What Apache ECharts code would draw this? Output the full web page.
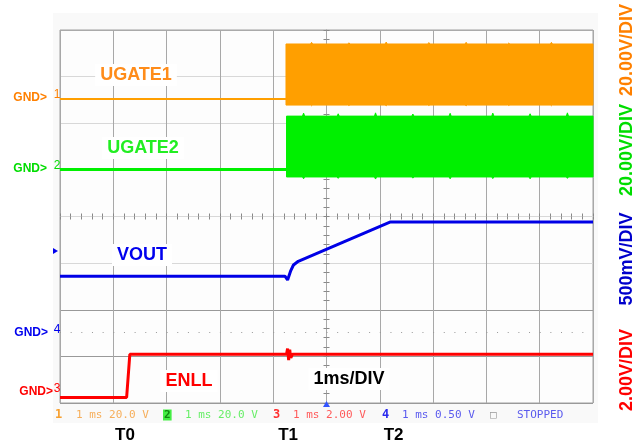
<!DOCTYPE html>
<html><head><meta charset="utf-8">
<script src="https://cdn.jsdelivr.net/npm/echarts@6/dist/echarts.min.js"></script>
<style>html,body{margin:0;padding:0;background:#fff}#c{width:642px;height:446px}</style>
</head><body><div id="c"></div>
<script>
// ---- data (time in ms, values in volts) ----
const ugate1BaseTime = [0, 4.24];
const ugate1BaseVolts = [0, 0];
const ugate1BandTime = [4.24, 4.70, 4.72, 4.74, 5.40, 5.42, 5.44, 6.10, 6.12, 6.14, 6.90, 6.92, 6.94, 7.60, 7.62, 7.64, 8.40, 8.42, 8.44, 9.20, 9.22, 9.24, 10];
const ugate1BandHigh = [23.6, 23.6, 24.3, 23.6, 23.6, 24.1, 23.6, 23.6, 24.4, 23.6, 23.6, 24.2, 23.6, 23.6, 24.3, 23.6, 23.6, 24.0, 23.6, 23.6, 24.3, 23.6, 23.6];
const ugate1BandLow = [-2.6, -2.6, -2.9, -2.6, -2.6, -2.8, -2.6, -2.6, -2.9, -2.6, -2.6, -2.8, -2.6, -2.6, -2.9, -2.6, -2.6, -2.8, -2.6, -2.6, -2.9, -2.6, -2.6];

const ugate2BaseTime = [0, 4.25];
const ugate2BaseVolts = [0, 0];
const ugate2BandTime = [4.25, 4.55, 4.57, 4.59, 5.20, 5.22, 5.24, 5.90, 5.92, 5.94, 6.60, 6.62, 6.64, 7.30, 7.32, 7.34, 8.10, 8.12, 8.14, 8.80, 8.82, 8.84, 9.50, 9.52, 9.54, 10];
const ugate2BandHigh = [22.9, 22.9, 24.2, 22.9, 22.9, 23.9, 22.9, 22.9, 24.3, 22.9, 22.9, 23.8, 22.9, 22.9, 24.1, 22.9, 22.9, 24.2, 22.9, 22.9, 23.9, 22.9, 22.9, 24.3, 22.9, 22.9];
const ugate2BandLow = [-3.2, -3.2, -4.0, -3.2, -3.2, -3.8, -3.2, -3.2, -4.1, -3.2, -3.2, -3.7, -3.2, -3.2, -4.0, -3.2, -3.2, -3.9, -3.2, -3.2, -4.0, -3.2, -3.2, -3.8, -3.2, -3.2];

const voutTime = [0, 4.22, 4.27, 4.33, 4.38, 4.47, 6.19, 10];
const voutVolts = [0.62, 0.62, 0.58, 0.68, 0.74, 0.78, 1.20, 1.20];

const enllTime = [0, 1.25, 1.31, 4.25, 4.27, 4.29, 4.31, 4.33, 4.36, 10];
const enllVolts = [0, 0, 1.85, 1.85, 2.1, 1.6, 2.05, 1.7, 1.85, 1.85];

const channelNames = ['UGATE1', 'UGATE2', 'VOUT', 'ENLL'];
const scaleLabels = ['20.00V/DIV', '20.00V/DIV', '500mV/DIV', '2.00V/DIV'];
const timeMarkerNames = ['T0', 'T1', 'T2'];
const timeMarkerMs = [1.22, 4.28, 6.26];
const timebaseLabel = '1ms/DIV';
const statusItems = ['1', '1 ms 20.0 V', '2', '1 ms 20.0 V', '3', '1 ms 2.00 V', '4', '1 ms 0.50 V', '\u25A1', 'STOPPED'];

// ---- channel settings (ground position in divisions, volts per division) ----
const ch1 = {gnd: 6.52, vdiv: 20};
const ch2 = {gnd: 5.008, vdiv: 20};
const ch3 = {gnd: 0.118, vdiv: 2};
const ch4 = {gnd: 1.48, vdiv: 0.5};
const toDiv = (v, c) => c.gnd + v / c.vdiv;
const zip = (t, v, c) => t.map((x, i) => [x, toDiv(v[i], c)]);

const ORANGE = '#ff9f00', GREEN = '#00f000', BLUE = '#0000e6', RED = '#ff0000';

function band(times, hi, lo, c, color) {
  return {
    type: 'custom', xAxisIndex: 0, yAxisIndex: 0, silent: true, z: 3,
    data: [[times[0], toDiv(hi[0], c)]],
    renderItem: (params, api) => {
      const pts = [];
      for (let i = 0; i < times.length; i++) pts.push(api.coord([times[i], toDiv(hi[i], c)]));
      for (let i = times.length - 1; i >= 0; i--) pts.push(api.coord([times[i], toDiv(lo[i], c)]));
      return {type: 'polygon', shape: {points: pts}, style: {fill: color, stroke: color, lineWidth: 1}};
    }
  };
}
function trace(t, v, c, color, w) {
  return {type: 'line', xAxisIndex: 0, yAxisIndex: 0, data: zip(t, v, c), symbol: 'none',
    lineStyle: {color: color, width: w}, z: 4, silent: true, animation: false};
}

const chart = echarts.init(document.getElementById('c'), null, {renderer: 'canvas'});
const G = {left: 60, top: 30, width: 533, height: 373};
const hColors = ['#999', '#999', '#999', '#d8d8d8', '#d8d8d8', '#d8d8d8', '#d8d8d8', '#d8d8d8', '#aaa'];
const tickStyle = {color: '#888', width: 1};
const centerAxisX = (pos) => ({gridIndex: 1, type: 'value', min: -5, max: 5, interval: 1, position: pos,
  axisLine: {show: true, onZero: true, lineStyle: {color: '#d8d8d8'}},
  axisTick: {show: true, length: 3, lineStyle: tickStyle},
  minorTick: {show: true, splitNumber: 5, length: 3, lineStyle: tickStyle},
  axisLabel: {show: false}, splitLine: {show: false}});
const centerAxisY = (pos) => ({gridIndex: 1, type: 'value', min: -4, max: 4, interval: 1, position: pos,
  axisLine: {show: true, onZero: true, lineStyle: {color: '#a8a8a8'}},
  axisTick: {show: true, length: 3, lineStyle: tickStyle},
  minorTick: {show: true, splitNumber: 5, length: 3, lineStyle: tickStyle},
  axisLabel: {show: false}, splitLine: {show: false}});

const option = {
  animation: false,
  backgroundColor: '#fff',
  grid: [Object.assign({show: true, borderColor: '#a0a0a0', borderWidth: 1, backgroundColor: '#fdfdfd'}, G), Object.assign({}, G)],
  xAxis: [
    {gridIndex: 0, type: 'value', min: 0, max: 10, interval: 1,
      axisLine: {show: false}, axisTick: {show: false}, axisLabel: {show: false},
      splitLine: {show: true, lineStyle: {color: '#a8a8a8', width: 1}}},
    centerAxisX('bottom'), centerAxisX('top')
  ],
  yAxis: [
    {gridIndex: 0, type: 'value', min: 0, max: 8, interval: 1,
      axisLine: {show: false}, axisTick: {show: false}, axisLabel: {show: false},
      splitLine: {show: true, lineStyle: {color: hColors, width: 1}}},
    centerAxisY('left'), centerAxisY('right')
  ],
  series: [
    Object.assign(trace(ugate1BaseTime, ugate1BaseVolts, ch1, ORANGE, 2), {
      markLine: {silent: true, symbol: 'none', label: {show: false},
        lineStyle: {color: '#999', type: [1, 9.66], width: 1},
        data: [{yAxis: ch4.gnd + 0.04}]}}),
    band(ugate1BandTime, ugate1BandHigh, ugate1BandLow, ch1, ORANGE),
    trace(ugate2BaseTime, ugate2BaseVolts, ch2, GREEN, 3),
    band(ugate2BandTime, ugate2BandHigh, ugate2BandLow, ch2, GREEN),
    trace(voutTime, voutVolts, ch4, BLUE, 3),
    trace(enllTime, enllVolts, ch3, RED, 3)
  ]
};
chart.setOption(option);

// ---- annotations ----
const px = (t) => chart.convertToPixel({xAxisIndex: 0, yAxisIndex: 0}, [t, 0])[0];
const BOLD = 'bold 18px "Liberation Sans", Arial, sans-serif';
const SMALL = 'bold 12px "Liberation Sans", Arial, sans-serif';
const MONO = '11px "DejaVu Sans Mono", monospace';
const g = [];
g.push({type: 'rect', z: -100, shape: {x: 53, y: 13, width: 545, height: 410}, style: {fill: '#f9f9f9'}});
function lbl(text, x, y, color, bg) {
  g.push({type: 'text', z: 50, x: x, y: y, style: {text: text, font: BOLD, fill: color,
    align: 'center', verticalAlign: 'middle', backgroundColor: bg ? '#fff' : undefined, padding: bg ? [2, 5] : 0}});
}
lbl(channelNames[0], 136, 75, '#ff8c1a', true);
lbl(channelNames[1], 143, 148, '#22ee22', true);
lbl(channelNames[2], 142, 255, '#0000ee', true);
lbl(channelNames[3], 189, 381, '#ff0000', true);
lbl(timebaseLabel, 349, 379, '#000', true);
function gnd(num, xr, y, color) {
  g.push({type: 'text', z: 50, x: xr, y: y, style: {text: 'GND>', font: SMALL, fill: color, align: 'right', verticalAlign: 'middle'}});
  g.push({type: 'text', z: 50, x: 57, y: y - 3, style: {text: num, font: '12px "Liberation Sans", Arial', fill: color, align: 'center', verticalAlign: 'middle'}});
}
gnd('1', 47, 98, '#ff8000');
gnd('2', 47, 169, '#00dd00');
gnd('4', 48, 333, '#0000ee');
gnd('3', 53, 392, '#ff0000');
g.push({type: 'polygon', z: 50, shape: {points: [[53, 248], [58, 251], [53, 254]]}, style: {fill: '#0000ee'}});
g.push({type: 'polygon', z: 50, shape: {points: [[323, 407], [326.5, 401], [330, 407]]}, style: {fill: '#3355ff'}});
// right vertical scale labels
const rightY = [50, 150, 259, 370];
const rightC = ['#ff8000', '#00dd00', '#0000cc', '#ff0000'];
scaleLabels.forEach((s, i) => g.push({type: 'text', z: 50, x: 627, y: rightY[i], rotation: Math.PI / 2,
  style: {text: s, font: BOLD, fill: rightC[i], align: 'center', verticalAlign: 'middle'}}));
// T markers
timeMarkerNames.forEach((s, i) => g.push({type: 'text', z: 50, x: px(timeMarkerMs[i]), y: 435,
  style: {text: s, font: 'bold 17px "Liberation Sans", Arial, sans-serif', fill: '#000', align: 'center', verticalAlign: 'middle'}}));
// status line
const statusX = [55, 76, 163, 185, 273, 293, 382, 402, 490, 517];
const statusC = ['#f7a030', '#f6ae5a', '#118811', '#66ee66', '#ff3030', '#ff5a5a', '#2a2aee', '#5a5aee', '#999', '#5a5aee'];
statusItems.forEach((s, i) => {
  const st = {text: s, font: MONO, fill: statusC[i], align: 'left', verticalAlign: 'middle'};
  if (i === 2) { st.backgroundColor = '#44ee44'; st.padding = [0, 1]; st.font = 'bold 11px "DejaVu Sans Mono", monospace'; }
  if (i === 0 || i === 4 || i === 6) st.font = 'bold 12px "DejaVu Sans Mono", monospace';
  g.push({type: 'text', z: 50, x: statusX[i], y: 415, style: st});
});
chart.setOption({graphic: g});
</script></body></html>
